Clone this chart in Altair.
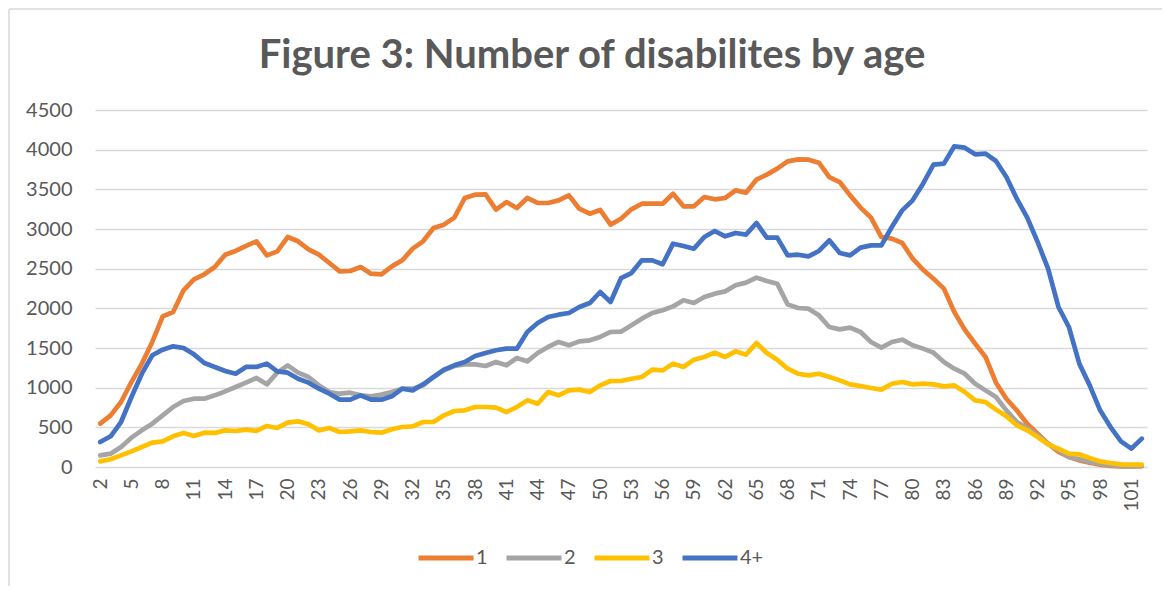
import altair as alt
import pandas as pd

ages = list(range(2, 103))
tick_ages = [2, 5, 8, 11, 14, 17, 20, 23, 26, 29, 32, 35, 38, 41, 44, 47, 50, 53, 56, 59,
             62, 65, 68, 71, 74, 77, 80, 83, 86, 89, 92, 95, 98, 101]
series_names = ["1", "2", "3", "4+"]
series_colors = ["#ED7D31", "#A5A5A5", "#FFC000", "#4472C4"]
y_ticks = [0, 500, 1000, 1500, 2000, 2500, 3000, 3500, 4000, 4500]

s1 = [547, 651, 819, 1071, 1303, 1576, 1899, 1954, 2227, 2366,
      2429, 2521, 2676, 2723, 2786, 2845, 2668, 2718, 2899, 2845,
      2744, 2676, 2571, 2466, 2471, 2521, 2437, 2429, 2529, 2605,
      2752, 2845, 3013, 3055, 3143, 3391, 3433, 3437, 3244, 3340,
      3265, 3391, 3328, 3328, 3361, 3424, 3256, 3193, 3240, 3055,
      3130, 3248, 3319, 3319, 3319, 3445, 3286, 3286, 3403, 3374,
      3391, 3487, 3458, 3622, 3685, 3761, 3853, 3878, 3874, 3836,
      3655, 3592, 3424, 3270, 3143, 2899, 2878, 2824, 2626, 2487,
      2374, 2248, 1954, 1731, 1555, 1387, 1063, 861, 714, 546,
      420, 294, 189, 126, 84, 55, 29, 13, 8, 8, 10]
s2 = [147, 168, 252, 370, 462, 546, 651, 756, 832, 861,
      861, 903, 954, 1008, 1063, 1122, 1042, 1189, 1282, 1189,
      1134, 1029, 945, 924, 937, 903, 891, 912, 945, 987,
      987, 1029, 1134, 1218, 1273, 1294, 1294, 1273, 1324, 1282,
      1374, 1332, 1437, 1513, 1576, 1534, 1584, 1597, 1639, 1702,
      1706, 1786, 1870, 1941, 1975, 2025, 2101, 2067, 2143, 2185,
      2214, 2290, 2324, 2387, 2345, 2311, 2050, 2004, 1996, 1912,
      1765, 1735, 1756, 1702, 1576, 1504, 1576, 1605, 1534, 1492,
      1441, 1324, 1239, 1176, 1050, 966, 882, 714, 567, 492,
      399, 294, 210, 126, 97, 63, 42, 21, 13, 8, 13]
s3 = [71, 97, 147, 197, 252, 307, 324, 387, 429, 391,
      433, 429, 462, 454, 471, 454, 517, 492, 559, 576,
      538, 462, 492, 441, 450, 462, 441, 433, 475, 504,
      513, 567, 567, 651, 706, 714, 756, 756, 748, 693,
      756, 840, 798, 945, 903, 966, 975, 945, 1029, 1084,
      1084, 1113, 1134, 1227, 1218, 1303, 1261, 1353, 1387, 1441,
      1387, 1458, 1416, 1563, 1437, 1353, 1239, 1176, 1155, 1176,
      1134, 1092, 1042, 1021, 996, 975, 1050, 1071, 1042, 1050,
      1042, 1017, 1029, 945, 840, 819, 723, 639, 525, 462,
      378, 286, 231, 168, 160, 113, 71, 50, 34, 29, 29]
s4 = [315, 387, 567, 882, 1176, 1408, 1479, 1521, 1500, 1420,
      1311, 1261, 1210, 1176, 1261, 1261, 1303, 1206, 1189, 1113,
      1063, 987, 924, 849, 849, 903, 849, 849, 891, 987,
      966, 1042, 1134, 1227, 1282, 1324, 1399, 1437, 1471, 1492,
      1492, 1702, 1815, 1891, 1920, 1941, 2017, 2067, 2206, 2080,
      2380, 2445, 2605, 2605, 2555, 2815, 2786, 2752, 2899, 2975,
      2908, 2950, 2929, 3076, 2891, 2891, 2668, 2676, 2655, 2723,
      2857, 2697, 2668, 2765, 2794, 2794, 3025, 3235, 3361, 3571,
      3811, 3824, 4042, 4025, 3941, 3950, 3857, 3655, 3382, 3143,
      2836, 2500, 2017, 1765, 1303, 1029, 714, 504, 324, 231, 357]

rows = []
for name, vals in zip(series_names, [s1, s2, s3, s4]):
    for a, v in zip(ages, vals):
        rows.append({"age": a, "count": v, "series": name})
df = pd.DataFrame(rows)

FONT = "Lato"
TXT = "#595959"

lines = alt.Chart(df).mark_line(strokeWidth=4.7, strokeCap="round", strokeJoin="round").encode(
    x=alt.X("age:Q",
            scale=alt.Scale(domain=[1.5, 102.5], nice=False, zero=False),
            axis=alt.Axis(values=tick_ages, title=None, labelAngle=-90, ticks=False,
                          grid=False, domain=False, labelPadding=11, labelFontSize=19,
                          labelColor=TXT, labelFont=FONT, labelFlush=False)),
    y=alt.Y("count:Q",
            scale=alt.Scale(domain=[0, 4500], nice=False),
            axis=alt.Axis(values=y_ticks, format="d", title=None, ticks=False, domain=False,
                          labelPadding=23, labelFontSize=20, labelColor=TXT, labelFont=FONT,
                          gridColor="#D9D9D9", gridWidth=1.3)),
    color=alt.Color("series:N",
                    scale=alt.Scale(domain=series_names, range=series_colors),
                    legend=alt.Legend(title=None, orient="none", direction="horizontal",
                                      legendX=321, legendY=418,
                                      symbolType="stroke", symbolSize=3025,
                                      symbolStrokeWidth=5, labelFontSize=20,
                                      labelColor=TXT, labelFont=FONT, labelOffset=0,
                                      columnPadding=8)),
)

border_data = alt.Data(values=[{"k": 0}])
left_border = alt.Chart(border_data).mark_rule(color="#D9D9D9", strokeWidth=1.5).encode(
    x=alt.value(-86), y=alt.value(-101), y2=alt.value(480))
top_border = alt.Chart(border_data).mark_rule(color="#D9D9D9", strokeWidth=1.5).encode(
    x=alt.value(-86), x2=alt.value(1070), y=alt.value(-101))

chart = alt.layer(left_border, top_border, lines).properties(
    width=1052, height=357,
    title=alt.TitleParams("Figure 3: Number of disabilites by age", anchor="middle",
                          fontSize=40, fontWeight="bold", color=TXT, font=FONT,
                          dx=-29, offset=-68),
    autosize=alt.AutoSizeParams(type="none"),
    padding={"left": 87, "top": 102, "right": 15, "bottom": 119},
).configure_view(stroke=None)

chart.save("out.html", embed_options={"renderer": "svg", "actions": False})
